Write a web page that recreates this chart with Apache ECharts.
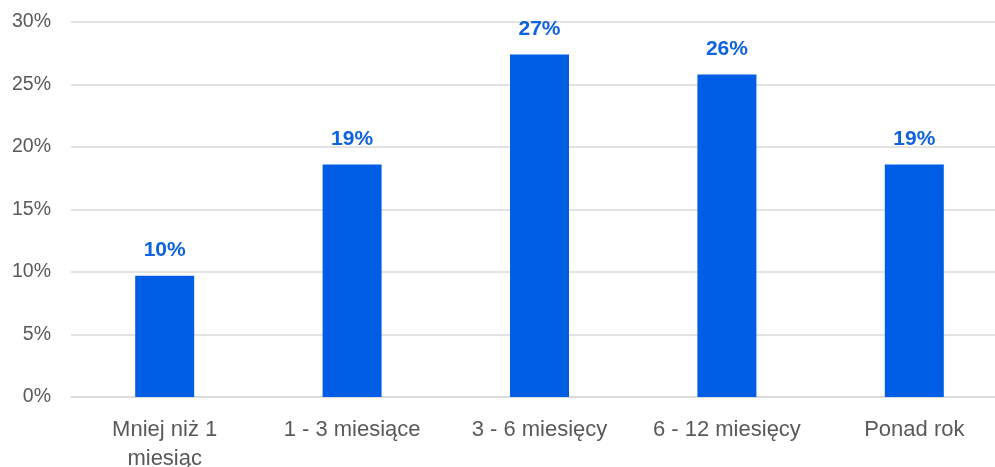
<!DOCTYPE html>
<html>
<head>
<meta charset="utf-8">
<script src="https://cdn.jsdelivr.net/npm/echarts@6/dist/echarts.min.js"></script>
<style>
  html, body { margin: 0; padding: 0; background: #ffffff; }
  #chart { width: 995px; height: 467px; }
</style>
</head>
<body>
<div id="chart"></div>
<script>
// Share of respondents by duration (percent)
const categories = ['Mniej niż 1\nmiesiąc', '1 - 3 miesiące', '3 - 6 miesięcy', '6 - 12 miesięcy', 'Ponad rok'];
const shares = [9.7, 18.6, 27.4, 25.8, 18.6];
const yTicks = [0, 5, 10, 15, 20, 25, 30];

const chart = echarts.init(document.getElementById('chart'), null, { renderer: 'canvas' });

chart.setOption({
  animation: false,
  backgroundColor: '#ffffff',
  grid: { left: 71, top: 22, width: 937, height: 375, containLabel: false, outerBoundsMode: 'none' },
  xAxis: {
    type: 'category',
    data: categories,
    axisLine: { show: true, lineStyle: { color: '#d9d9d9', width: 1.5 } },
    axisTick: { show: false },
    axisLabel: {
      color: '#595959',
      fontFamily: 'Liberation Sans, Arial, sans-serif',
      fontSize: 22,
      lineHeight: 29,
      margin: 18,
      interval: 0
    }
  },
  yAxis: {
    type: 'value',
    min: yTicks[0],
    max: yTicks[yTicks.length - 1],
    interval: 5,
    axisLine: { show: false },
    axisTick: { show: false },
    splitLine: { lineStyle: { color: '#d9d9d9', width: 1.5 } },
    axisLabel: {
      color: '#595959',
      fontFamily: 'Liberation Sans, Arial, sans-serif',
      fontSize: 19.5,
      margin: 20,
      formatter: v => v + '%'
    }
  },
  series: [{
    type: 'bar',
    data: shares,
    barWidth: 59,
    itemStyle: { color: '#005ee6' },
    label: {
      show: true,
      position: 'top',
      distance: 15,
      color: '#0f62e0',
      fontFamily: 'Liberation Sans, Arial, sans-serif',
      fontWeight: 'bold',
      fontSize: 21,
      formatter: p => Math.round(p.value) + '%'
    }
  }]
});
</script>
</body>
</html>
